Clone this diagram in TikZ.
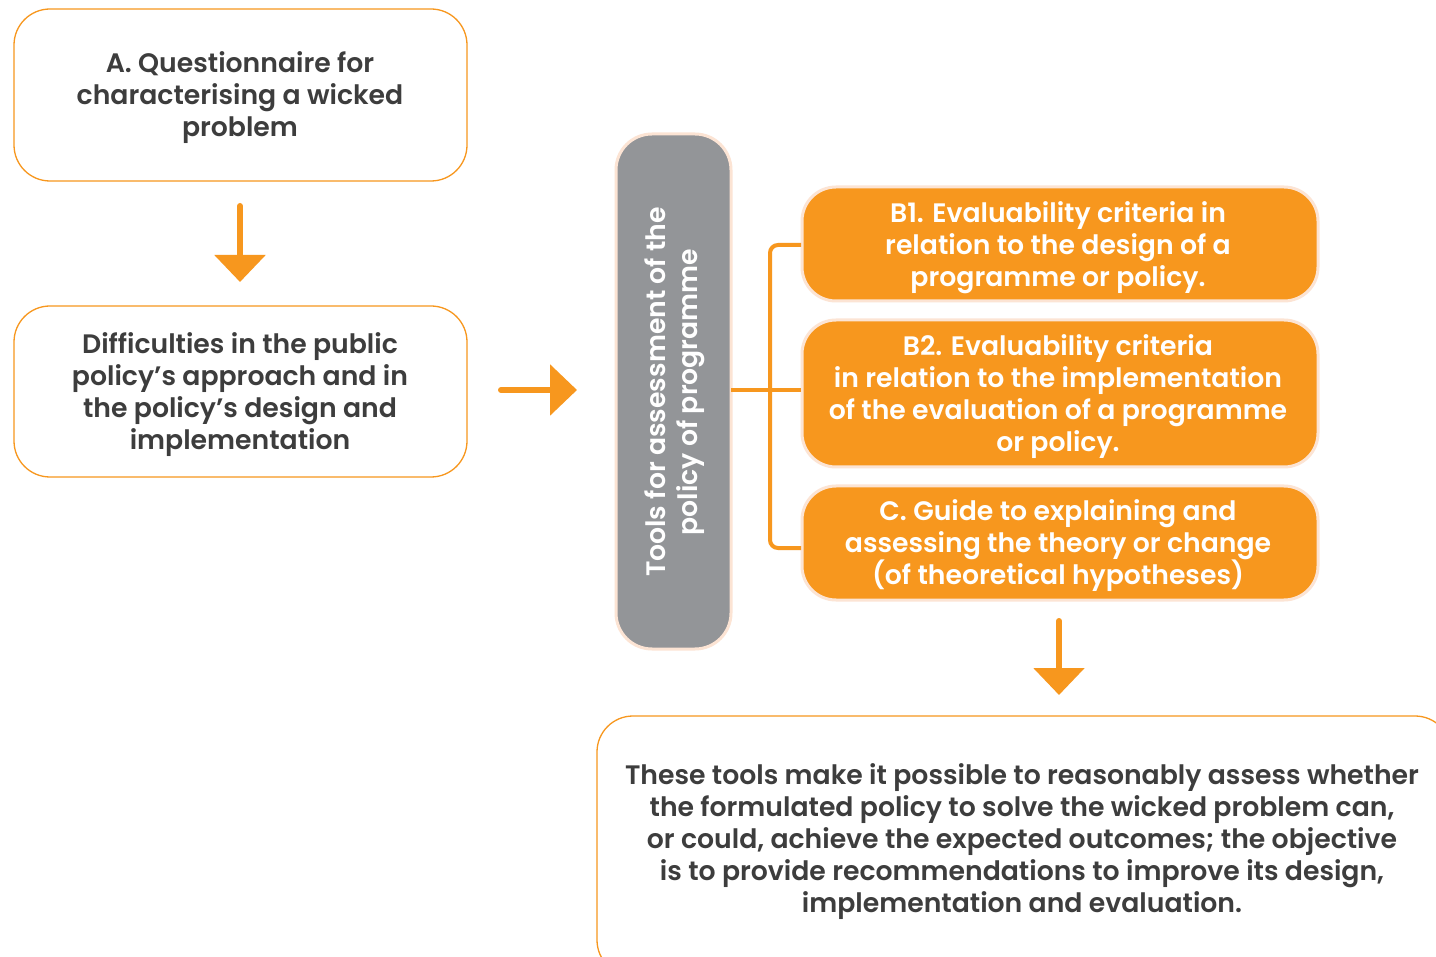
\documentclass[tikz,border=0pt]{standalone}
\usepackage{fontspec}
\setmainfont{Poppins}[UprightFont={* SemiBold}]
\usetikzlibrary{arrows.meta}
\definecolor{myorange}{HTML}{F7971E}
\definecolor{mytext}{HTML}{3D3D3D}
\definecolor{mygray}{HTML}{939598}
\definecolor{mypeach}{HTML}{FCE4D4}
\begin{document}
\begin{tikzpicture}[x=1pt,y=-1pt,
  txt/.style={font=\fontsize{26.7}{32}\selectfont, align=center, text=mytext},
  wbox/.style={draw=myorange, line width=1.3pt, fill=white, rounded corners=36pt},
  obox/.style={draw=mypeach, line width=3pt, fill=myorange, rounded corners=34pt},
  gbox/.style={draw=mypeach, line width=3pt, fill=mygray, rounded corners=36pt},
  bigarrow/.style={myorange, line width=6pt, line cap=round, -{Triangle[width=50pt,length=27pt]}},
  link/.style={myorange, line width=4pt, rounded corners=8pt}
]
\clip (0,0) rectangle (1436,957);
\fill[white] (0,0) rectangle (1436,957);
% boxes
\draw[wbox] (14,9) rectangle (467,181);
\node[txt] (A) at (240,98) {A. Questionnaire for\\characterising a wicked\\problem};
\draw[wbox] (14,306) rectangle (467,477);
\node[txt] (D) at (240,395) {Difficulties in the public\\policy’s approach and in\\the policy’s design and\\implementation};
\coordinate (Abot) at (240,206);
\coordinate (Dtop) at (240,282);
\draw[bigarrow] (Abot) -- (Dtop);
\coordinate (Dr) at (501,390);
\coordinate (Gl) at (577,390);
\draw[bigarrow] (Dr) -- (Gl);
% gray box
\draw[gbox] (616,134) rectangle (731,649);
\node[txt, text=white, rotate=90] (G) at (675,392) {Tools for assessment of the\\policy of programme};
% orange boxes
\draw[obox] (802,187) rectangle (1318,301);
\node[txt, text=white] (B1) at (1058,248) {B1. Evaluability criteria in\\relation to the design of a\\programme or policy.};
\draw[obox] (802,320) rectangle (1318,467);
\node[txt, text=white] (B2) at (1058,397) {B2. Evaluability criteria\\in relation to the implementation\\of the evaluation of a programme\\or policy.};
\draw[obox] (802,486) rectangle (1318,600);
\node[txt, text=white] (C) at (1058,546) {C. Guide to explaining and\\assessing the theory or change\\(of theoretical hypotheses)};
% bracket
\coordinate (Gr) at (731,390);
\coordinate (B1l) at (801,245);
\coordinate (B2l) at (801,390);
\coordinate (Cl) at (801,548);
\draw[link] (Gr) -- (B2l);
\draw[link] (B1l) -- (770,245) -- (770,548) -- (Cl);
% bottom
\coordinate (Cb) at (1059,621);
\coordinate (Et) at (1059,695);
\draw[bigarrow] (Cb) -- (Et);
\draw[wbox] (597,716) rectangle (1451,976);
\node[txt] (E) at (1022,842) {These tools make it possible to reasonably assess whether\\the formulated policy to solve the wicked problem can,\\or could, achieve the expected outcomes; the objective\\is to provide recommendations to improve its design,\\implementation and evaluation.};
\end{tikzpicture}
\end{document}
